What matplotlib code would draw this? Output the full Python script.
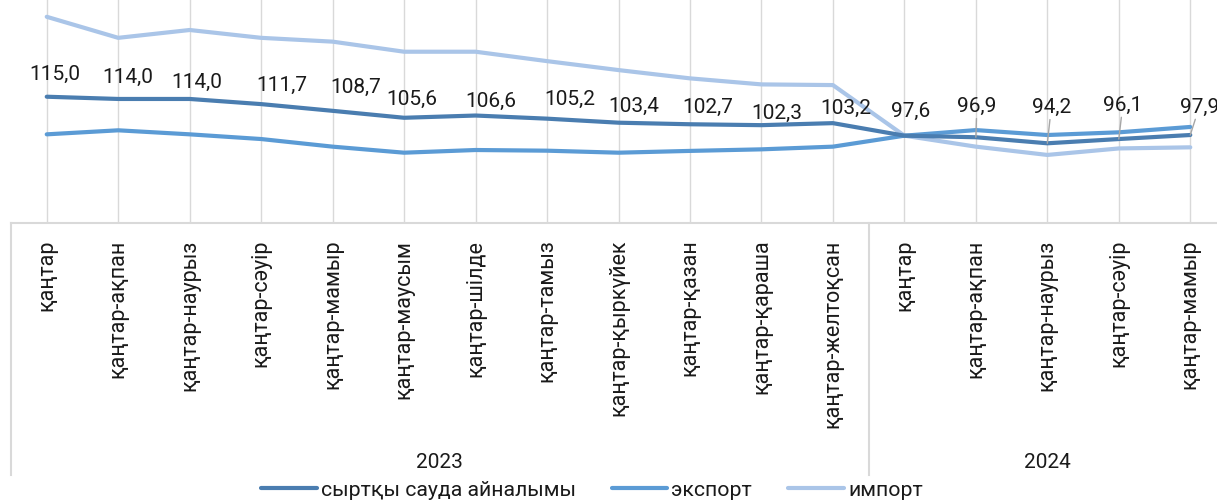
import matplotlib
matplotlib.use("Agg")
import matplotlib.pyplot as plt
from matplotlib.lines import Line2D

plt.rcParams['font.family'] = ['Roboto', 'DejaVu Sans']

# data
months = ['қаңтар', 'қаңтар-ақпан', 'қаңтар-наурыз', 'қаңтар-сәуір', 'қаңтар-мамыр',
          'қаңтар-маусым', 'қаңтар-шілде', 'қаңтар-тамыз', 'қаңтар-қыркүйек',
          'қаңтар-қазан', 'қаңтар-қараша', 'қаңтар-желтоқсан',
          'қаңтар', 'қаңтар-ақпан', 'қаңтар-наурыз', 'қаңтар-сәуір', 'қаңтар-мамыр']
years = ['2023', '2024']
year_counts = [12, 5]

turnover = [115.0, 114.0, 114.0, 111.7, 108.7, 105.6, 106.6, 105.2, 103.4, 102.7,
            102.3, 103.2, 97.6, 96.9, 94.2, 96.1, 97.9]
export = [98.2, 100.0, 98.2, 96.1, 92.7, 90.0, 91.2, 90.9, 90.0, 90.8,
          91.5, 92.7, 97.6, 100.1, 97.9, 99.1, 101.5]
imports = [150.7, 141.3, 144.8, 141.3, 139.6, 135.1, 135.1, 130.9, 126.9, 123.2,
           120.5, 120.2, 97.6, 92.7, 89.0, 91.9, 92.4]

series_names = ['сыртқы сауда айналымы', 'экспорт', 'импорт']
colors = ['#4a7db0', '#5b9bd5', '#aac5e8']

# label offsets (pixels, right / up) and which labels get leader lines
label_dx = [8, 10, 7, 21, 23, 8, 15, 23, 15, 18, 15, 13, 6, 1, 4, 4, 9]
label_dy = [22, 22, 17, 19, 23, 18, 14, 19, 16, 17, 12, 15, 24, 31, 36, 34, 28]
leaders = [False] * 13 + [True] * 4


def plot():
    fig = plt.figure(figsize=(12.17, 5.0), dpi=100)
    ax = fig.add_axes([11 / 1217, 277 / 500, 1215 / 1217, 223 / 500])
    x = list(range(len(months)))

    ax.set_xlim(-0.5, len(months) - 0.5)
    ax.set_ylim(58.6, 158.2)

    for xi in x:
        ax.axvline(xi, color='#d9d9d9', lw=1, zorder=0)

    ax.plot(x, imports, color=colors[2], lw=3, solid_capstyle='round', zorder=2)
    ax.plot(x, export, color=colors[1], lw=3, solid_capstyle='round', zorder=3)
    ax.plot(x, turnover, color=colors[0], lw=3, solid_capstyle='round', zorder=4)

    for xi, v, dx, dy, lead in zip(x, turnover, label_dx, label_dy, leaders):
        txt = f"{v:.1f}".replace('.', ',')
        props = None
        if lead:
            props = dict(arrowstyle='-', color='#a6a6a6', lw=1, shrinkA=0, shrinkB=0)
        ax.annotate(txt, (xi, v), xytext=(dx * 0.72, dy * 0.72), textcoords='offset points',
                    ha='center', va='center', fontsize=15, color='#1a1a1a',
                    arrowprops=props, zorder=5)

    for s in ['top', 'right', 'left']:
        ax.spines[s].set_visible(False)
    ax.spines['bottom'].set_color('#d9d9d9')
    ax.spines['bottom'].set_linewidth(1.5)
    ax.set_yticks([])
    ax.set_xticks(x)
    ax.set_xticklabels(months, rotation=90, fontsize=15.5, color='#1a1a1a', va='top')
    ax.tick_params(axis='x', length=0, pad=12)

    # group separators and year labels below the axis
    trans = ax.get_xaxis_transform()
    bottom = (223 - 475) / 223
    start = -0.5
    for name, n in zip(years, year_counts):
        ax.plot([start, start], [0, bottom], transform=trans, color='#d9d9d9', lw=1.5, clip_on=False)
        ax.text(start + n / 2, (223 - 462) / 223, name, transform=trans, ha='center',
                va='center', fontsize=15, color='#1a1a1a')
        start += n
    ax.plot([start, start], [0, bottom], transform=trans, color='#d9d9d9', lw=1.5, clip_on=False)

    handles = [Line2D([], [], color=c, lw=3, solid_capstyle='round') for c in colors]
    fig.legend(handles, series_names, loc='center', bbox_to_anchor=(592 / 1217, 1 - 490 / 500),
               ncol=3, frameon=False, fontsize=15.3, handlelength=2.6, handletextpad=0.2,
               columnspacing=1.7, labelcolor='#1a1a1a')

    fig.savefig('out.png', dpi=100)


if __name__ == '__main__':
    plot()
